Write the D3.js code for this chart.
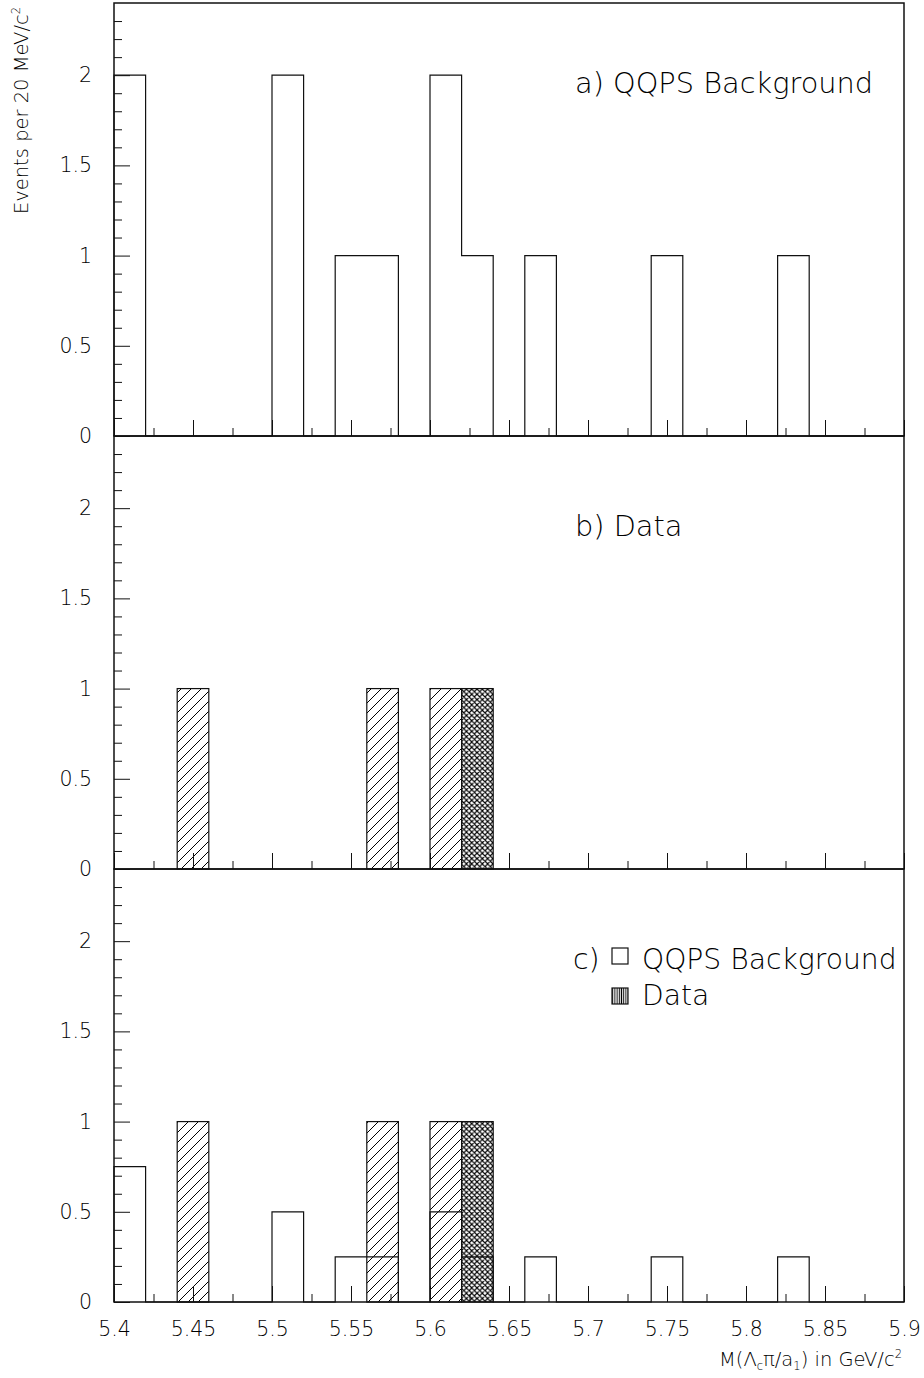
<!DOCTYPE html>
<html>
<head>
<meta charset="utf-8">
<script src="https://cdn.jsdelivr.net/npm/d3@7"></script>
<style>
  html, body { margin: 0; padding: 0; background: #fff; }
  svg { display: block; }
  text { font-family: 'DejaVu Sans ExtraLight', 'DejaVu Sans', sans-serif; font-weight: 200; fill: #000; }
</style>
</head>
<body>
<svg id="chart" width="924" height="1378"></svg>
<script>
// ---- data ----
const binLow = [5.40,5.42,5.44,5.46,5.48,5.50,5.52,5.54,5.56,5.58,5.60,5.62,5.64,5.66,5.68,5.70,5.72,5.74,5.76,5.78,5.80,5.82,5.84,5.86,5.88];
const binWidth = 0.02;
// a) QQPS background (events per bin)
const bkgA = [2,0,0,0,0,2,0,1,1,0,2,1,0,1,0,0,0,1,0,0,0,1,0,0,0];
// b) data, single-hatched component
const dataHatch = [0,0,1,0,0,0,0,0,1,0,1,0,0,0,0,0,0,0,0,0,0,0,0,0,0];
// b) data, cross-hatched component
const dataCross = [0,0,0,0,0,0,0,0,0,0,0,1,0,0,0,0,0,0,0,0,0,0,0,0,0];
// c) normalised QQPS background
const bkgC = [0.75,0,0,0,0,0.5,0,0.25,0.25,0,0.5,0.25,0,0.25,0,0,0,0.25,0,0,0,0.25,0,0,0];

const xMajorTicks = [5.4,5.45,5.5,5.55,5.6,5.65,5.7,5.75,5.8,5.85,5.9];
const xTickLabels = ["5.4","5.45","5.5","5.55","5.6","5.65","5.7","5.75","5.8","5.85","5.9"];
const xMinorTicks = [5.425,5.475,5.525,5.575,5.625,5.675,5.725,5.775,5.825,5.875];
const yMajorTicks = [0,0.5,1,1.5,2];
const yTickLabels = ["0","0.5","1","1.5","2"];
const yMinorTicks = [0.1,0.2,0.3,0.4,0.6,0.7,0.8,0.9,1.1,1.2,1.3,1.4,1.6,1.7,1.8,1.9,2.1,2.2,2.3];
const panelTitles = ["a) QQPS Background", "b) Data", "c)"];
const legendLabels = ["QQPS Background", "Data"];

// ---- layout ----
const svg = d3.select("#chart");
const left = 114, right = 904;
const panels = [{top: 3, bottom: 436}, {top: 436, bottom: 869}, {top: 869, bottom: 1302}];
const x = d3.scaleLinear().domain([5.4, 5.9]).range([left, right]);

// patterns
const defs = svg.append("defs");
const ph = defs.append("pattern").attr("id", "hatch").attr("patternUnits", "userSpaceOnUse")
  .attr("width", 10).attr("height", 10);
ph.append("path").attr("d", "M-2.5,2.5 L2.5,-2.5 M0,10 L10,0 M7.5,12.5 L12.5,7.5")
  .attr("stroke", "#000").attr("stroke-width", 1);
const pc = defs.append("pattern").attr("id", "cross").attr("patternUnits", "userSpaceOnUse")
  .attr("width", 5.3).attr("height", 5.3);
pc.append("path").attr("d", "M-1,1 L1,-1 M0,5.3 L5.3,0 M4.3,6.3 L6.3,4.3 M-1,4.3 L1,6.3 M0,0 L5.3,5.3 M4.3,-1 L6.3,1")
  .attr("stroke", "#000").attr("stroke-width", 1.15);
const pv = defs.append("pattern").attr("id", "vlines").attr("patternUnits", "userSpaceOnUse")
  .attr("width", 2.2).attr("height", 4);
pv.append("path").attr("d", "M1.1,0 L1.1,4").attr("stroke", "#000").attr("stroke-width", 1);

function stepPath(vals, y) {
  const pts = [[x(binLow[0]), y(0)]];
  vals.forEach((v, i) => {
    pts.push([x(binLow[i]), y(v)]);
    pts.push([x(binLow[i] + binWidth), y(v)]);
  });
  pts.push([x(binLow[binLow.length - 1] + binWidth), y(0)]);
  return d3.line()(pts);
}

function drawBars(g, vals, y, fill) {
  const d = vals.map((v, i) => ({lo: binLow[i], v})).filter(e => e.v > 0);
  g.selectAll(null).data(d).enter().append("rect")
    .attr("x", e => x(e.lo))
    .attr("width", e => x(e.lo + binWidth) - x(e.lo))
    .attr("y", e => y(e.v))
    .attr("height", e => y(0) - y(e.v))
    .attr("fill", fill)
    .attr("stroke", "#111").attr("stroke-width", 1.2);
}

panels.forEach((p, pi) => {
  const y = d3.scaleLinear().domain([0, 2.4]).range([p.bottom, p.top]);
  const g = svg.append("g");

  // content
  if (pi === 0) {
    g.append("path").attr("d", stepPath(bkgA, y)).attr("fill", "none")
      .attr("stroke", "#111").attr("stroke-width", 1.2);
  } else {
    drawBars(g, dataHatch, y, "url(#hatch)");
    drawBars(g, dataCross, y, "url(#cross)");
    if (pi === 2) {
      g.append("path").attr("d", stepPath(bkgC, y)).attr("fill", "none")
        .attr("stroke", "#111").attr("stroke-width", 1.2);
    }
  }

  // y axis
  const ya = g.append("g").attr("transform", `translate(${left},0)`)
    .call(d3.axisLeft(y).tickValues(yMajorTicks).tickSize(-16).tickPadding(22)
      .tickFormat((d, i) => yTickLabels[i]));
  const ym = g.append("g").attr("transform", `translate(${left},0)`)
    .call(d3.axisLeft(y).tickValues(yMinorTicks).tickSize(-8).tickFormat(""));
  // x axis
  const xa = g.append("g").attr("transform", `translate(0,${p.bottom})`)
    .call(d3.axisBottom(x).tickValues(xMajorTicks).tickSize(-16).tickPadding(19)
      .tickFormat((d, i) => pi === 2 ? xTickLabels[i] : ""));
  const xm = g.append("g").attr("transform", `translate(0,${p.bottom})`)
    .call(d3.axisBottom(x).tickValues(xMinorTicks).tickSize(-8).tickFormat(""));
  [ya, ym, xa, xm].forEach(a => {
    a.select(".domain").remove();
    a.selectAll("line").attr("stroke", "#111").attr("stroke-width", 1);
    a.selectAll("text").attr("font-size", 20.5).attr("fill", "#000")
      .style("font-family", "'DejaVu Sans ExtraLight', 'DejaVu Sans', sans-serif").style("font-weight", 200);
  });

  // frame
  g.append("rect").attr("x", left).attr("y", p.top).attr("width", right - left)
    .attr("height", p.bottom - p.top).attr("fill", "none").attr("stroke", "#111").attr("stroke-width", 1.5);
});

// titles
svg.append("text").attr("x", 575).attr("y", 93).attr("font-size", 28.8).text(panelTitles[0]);
svg.append("text").attr("x", 575).attr("y", 536).attr("font-size", 28.8).text(panelTitles[1]);
svg.append("text").attr("x", 573).attr("y", 969).attr("font-size", 28.4).text(panelTitles[2]);

// legend
svg.append("rect").attr("x", 612).attr("y", 948).attr("width", 16).attr("height", 16)
  .attr("fill", "none").attr("stroke", "#111").attr("stroke-width", 1.2);
svg.append("text").attr("x", 642).attr("y", 969).attr("font-size", 28.2).text(legendLabels[0]);
svg.append("rect").attr("x", 612).attr("y", 988).attr("width", 16).attr("height", 16)
  .attr("fill", "url(#vlines)").attr("stroke", "#111").attr("stroke-width", 1.2);
svg.append("text").attr("x", 642).attr("y", 1005).attr("font-size", 28.2).text(legendLabels[1]);

// x-axis title
const xt = svg.append("text").attr("x", 902).attr("y", 1366).attr("font-size", 19.5).attr("text-anchor", "end");
xt.append("tspan").text("M(\u039B");
xt.append("tspan").attr("font-size", 11.5).attr("dy", 4).text("c");
xt.append("tspan").attr("dy", -4).text("\u03C0/a");
xt.append("tspan").attr("font-size", 11.5).attr("dy", 4).text("1");
xt.append("tspan").attr("dy", -4).text(") in GeV/c");
xt.append("tspan").attr("font-size", 11.5).attr("dy", -8).text("2");

// y-axis title
const yt = svg.append("text").attr("transform", "translate(28,7) rotate(-90)")
  .attr("font-size", 19.5).attr("text-anchor", "end");
yt.append("tspan").text("Events per 20 MeV/c");
yt.append("tspan").attr("font-size", 11.5).attr("dy", -8).text("2");
</script>
</body>
</html>
